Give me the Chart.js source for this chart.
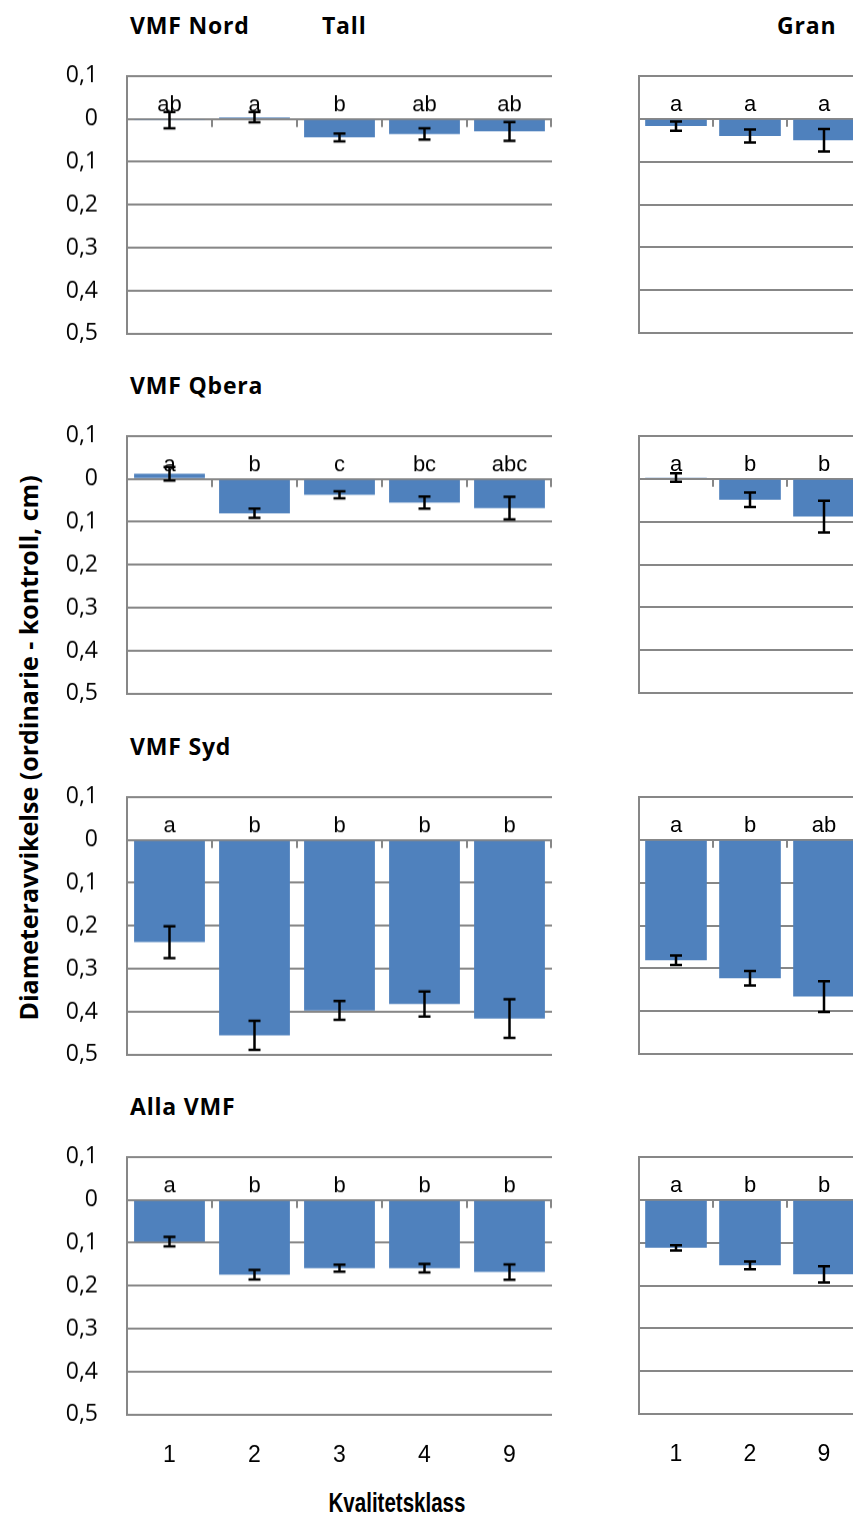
<!DOCTYPE html>
<html lang="sv">
<head>
<meta charset="UTF-8">
<title>Diameteravvikelse per kvalitetsklass</title>
<script src="https://cdn.jsdelivr.net/npm/chart.js"></script>
<style>
    body { margin: 0; background: #fff; }
    .page { position: relative; width: 853px; height: 1517px; overflow: hidden; }
    .page canvas { position: absolute; }
    .lbl { position: absolute; white-space: nowrap; color: #000; line-height: 30px; }
    .title { font: bold 23px "Open Sans", sans-serif; letter-spacing: 0.8px; }
    .ytitle { font: bold 25px "Open Sans", sans-serif; left: 28px; top: 748px;
              transform: translate(-50%, -50%) rotate(-90deg); }
    .xtitle { font: bold 27px "Liberation Sans Narrow", "Liberation Sans", sans-serif; left: 397px; top: 1503px;
              transform: translate(-50%, -50%) scaleX(0.76); }
</style>
</head>
<body>
<div class="page" id="page">
    <div class="lbl title" style="left:130px; top:9px">VMF Nord</div>
    <div class="lbl title" style="left:322px; top:9px">Tall</div>
    <div class="lbl title" style="left:777px; top:9px">Gran</div>
    <div class="lbl title" style="left:130px; top:369px">VMF Qbera</div>
    <div class="lbl title" style="left:130px; top:730px">VMF Syd</div>
    <div class="lbl title" style="left:130px; top:1090px">Alla VMF</div>
    <div class="lbl ytitle">Diameteravvikelse (ordinarie - kontroll, cm)</div>
    <div class="lbl xtitle">Kvalitetsklass</div>
</div>
<script>
    // kvalitetsklasser
    const tallKlass = ['1', '2', '3', '4', '9'];
    const granKlass = ['1', '2', '9'];

    // medelvärden (cm), negativa = ordinarie mindre än kontroll
    const tallNord  = [-0.003, 0.004, -0.043, -0.035, -0.029];
    const granNord  = [-0.017, -0.040, -0.050];
    const tallQbera = [0.012, -0.080, -0.037, -0.055, -0.068];
    const granQbera = [0.003, -0.049, -0.088];
    const tallSyd   = [-0.238, -0.455, -0.397, -0.382, -0.416];
    const granSyd   = [-0.281, -0.323, -0.366];
    const tallAlla  = [-0.097, -0.174, -0.159, -0.159, -0.168];
    const granAlla  = [-0.112, -0.153, -0.174];

    // medelfel
    const tallNordErr  = [0.019, 0.012, 0.009, 0.013, 0.022];
    const granNordErr  = [0.011, 0.015, 0.026];
    const tallQberaErr = [0.016, 0.011, 0.008, 0.014, 0.026];
    const granQberaErr = [0.010, 0.017, 0.037];
    const tallSydErr   = [0.037, 0.034, 0.022, 0.029, 0.045];
    const granSydErr   = [0.011, 0.017, 0.036];
    const tallAllaErr  = [0.011, 0.011, 0.008, 0.010, 0.018];
    const granAllaErr  = [0.006, 0.009, 0.019];

    // signifikansbokstäver
    const tallNordSig  = ['ab', 'a', 'b', 'ab', 'ab'];
    const granNordSig  = ['a', 'a', 'a'];
    const tallQberaSig = ['a', 'b', 'c', 'bc', 'abc'];
    const granQberaSig = ['a', 'b', 'b'];
    const tallSydSig   = ['a', 'b', 'b', 'b', 'b'];
    const granSydSig   = ['a', 'b', 'ab'];
    const tallAllaSig  = ['a', 'b', 'b', 'b', 'b'];
    const granAllaSig  = ['a', 'b', 'b'];

    const yTicks = [0.1, 0, -0.1, -0.2, -0.3, -0.4, -0.5];

    const GRID = '#878787';
    const BAR = '#4F81BD';
    const plotTops = [76, 436, 797, 1157];
    const PLOT_H = 257;
    const PAD = 16;

    // bokstäver + felstaplar + små streck på nollinjen
    const extras = {
        id: 'extras',
        beforeDatasetsDraw(chart) {
            const ctx = chart.ctx;
            const x = chart.scales.x, y = chart.scales.y;
            const y0 = y.getPixelForValue(0);
            const n = chart.data.labels.length;
            ctx.save();
            ctx.strokeStyle = GRID;
            ctx.lineWidth = 2;
            for (let i = 1; i <= n; i++) {
                const px = i < n ? (x.getPixelForValue(i - 1) + x.getPixelForValue(i)) / 2 : chart.chartArea.right - 1;
                ctx.beginPath();
                ctx.moveTo(px, y0);
                ctx.lineTo(px, y0 + 8);
                ctx.stroke();
            }
            ctx.restore();
        },
        afterDatasetsDraw(chart) {
            const ctx = chart.ctx;
            const y = chart.scales.y;
            const ds = chart.data.datasets[0];
            const meta = chart.getDatasetMeta(0);
            const y0 = y.getPixelForValue(0);
            ctx.save();
            ctx.fillStyle = '#000';
            ctx.font = '22px "Liberation Sans", Arial, sans-serif';
            ctx.textAlign = 'center';
            ctx.textBaseline = 'middle';
            meta.data.forEach((el, i) => {
                ctx.fillText(ds.sig[i], el.x, y0 - 14);
            });
            ctx.strokeStyle = '#000';
            ctx.lineWidth = 2.5;
            meta.data.forEach((el, i) => {
                const top = y.getPixelForValue(ds.data[i] + ds.err[i]);
                const bot = y.getPixelForValue(ds.data[i] - ds.err[i]);
                ctx.beginPath();
                ctx.moveTo(el.x, top); ctx.lineTo(el.x, bot);
                ctx.moveTo(el.x - 6, top); ctx.lineTo(el.x + 6, top);
                ctx.moveTo(el.x - 6, bot); ctx.lineTo(el.x + 6, bot);
                ctx.stroke();
            });
            ctx.restore();
        }
    };

    function makePanel(row, left, width, axisW, padRight, labels, values, errs, sig, showY) {
        const last = row === 3;
        const canvas = document.createElement('canvas');
        const h = PLOT_H + PAD + (last ? 70 : PAD);
        canvas.width = width;
        canvas.height = h;
        canvas.style.left = left + 'px';
        canvas.style.top = (plotTops[row] - PAD) + 'px';
        document.getElementById('page').appendChild(canvas);

        const chart = new Chart(canvas.getContext('2d'), {
            type: 'bar',
            data: {
                labels: labels,
                datasets: [{
                    data: values,
                    err: errs,
                    sig: sig,
                    backgroundColor: BAR,
                    categoryPercentage: 1,
                    barPercentage: 0.833
                }]
            },
            options: {
                responsive: false,
                maintainAspectRatio: false,
                animation: false,
                devicePixelRatio: 1,
                layout: { padding: { top: PAD, bottom: last ? 0 : PAD, right: padRight, left: 0 } },
                plugins: { legend: { display: false }, tooltip: { enabled: false } },
                scales: {
                    x: {
                        display: last,
                        grid: { display: false },
                        border: { display: false },
                        ticks: {
                            color: '#000',
                            padding: 19,
                            font: { family: '"Liberation Sans Narrow", "Liberation Sans", sans-serif', size: 23 }
                        },
                        afterFit: s => { if (last) s.height = 70; }
                    },
                    y: {
                        min: -0.5,
                        max: 0.1,
                        afterBuildTicks: s => { s.ticks = yTicks.map(v => ({ value: v })); },
                        grid: { color: GRID, lineWidth: 2, drawTicks: false },
                        border: { color: GRID, width: 2 },
                        ticks: {
                            display: showY,
                            autoSkip: false,
                            color: '#000',
                            padding: 29,
                            font: { family: '"Open Sans", sans-serif', size: 23 },
                            callback: v => {
                                const a = Math.round(Math.abs(v) * 10) / 10;
                                return String(a).replace('.', ',');
                            }
                        },
                        afterFit: s => { s.width = axisW; }
                    }
                }
            },
            plugins: [extras]
        });

        // rätta plotytans höjd och läge mot förlagan
        const ca = chart.chartArea;
        const dh = PLOT_H - (ca.bottom - ca.top);
        if (Math.abs(dh) > 0.5) chart.resize(width, h + dh);
        canvas.style.top = (plotTops[row] - chart.chartArea.top) + 'px';
        return chart;
    }

    const tallVals = [tallNord, tallQbera, tallSyd, tallAlla];
    const tallErrs = [tallNordErr, tallQberaErr, tallSydErr, tallAllaErr];
    const tallSigs = [tallNordSig, tallQberaSig, tallSydSig, tallAllaSig];
    const granVals = [granNord, granQbera, granSyd, granAlla];
    const granErrs = [granNordErr, granQberaErr, granSydErr, granAllaErr];
    const granSigs = [granNordSig, granQberaSig, granSydSig, granAllaSig];

    for (let r = 0; r < 4; r++) {
        makePanel(r, 0, 560, 127, 8, tallKlass, tallVals[r], tallErrs[r], tallSigs[r], true);
        makePanel(r, 600, 300, 39, 39, granKlass, granVals[r], granErrs[r], granSigs[r], false);
    }
</script>
</body>
</html>
